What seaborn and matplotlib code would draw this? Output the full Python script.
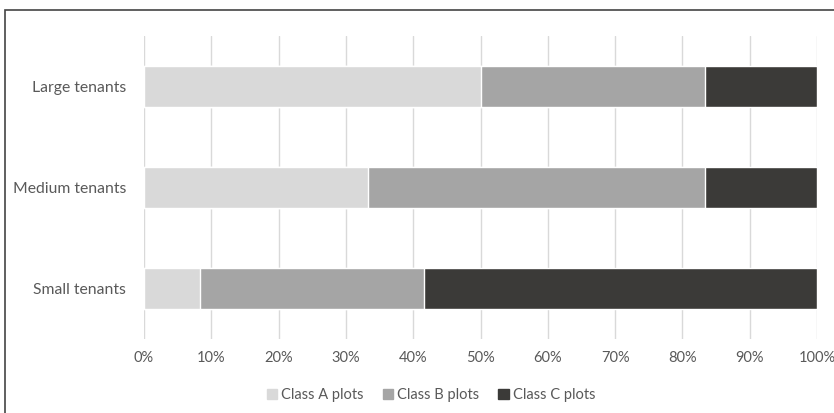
import matplotlib
matplotlib.use("Agg")
import matplotlib.pyplot as plt
import matplotlib.patches as mpatches
import numpy as np
import pandas as pd
import seaborn as sns

# Share of plot classes within each tenant size group (percent)
tenants = ["Large tenants", "Medium tenants", "Small tenants"]
class_a = [50.0, 33.3, 8.3]
class_b = [33.3, 50.0, 33.3]
class_c = [16.7, 16.7, 58.4]
series_names = ["Class A plots", "Class B plots", "Class C plots"]
colors = ["#D9D9D9", "#A5A5A5", "#3B3A38"]
xticks = list(range(0, 101, 10))

sns.set_theme(style="white")
plt.rcParams["font.family"] = ["Lato", "DejaVu Sans"]
text_color = "#595959"

W, H = 834, 413
fig = plt.figure(figsize=(W / 100, H / 100), dpi=100)
ax = fig.add_axes([144 / W, 1 - 339 / H, (817 - 144) / W, (339 - 36) / H])

# Stack by drawing cumulative totals from the back to the front
a = np.array(class_a)
b = np.array(class_b)
c = np.array(class_c)
layers = [(a + b + c, colors[2]), (a + b, colors[1]), (a, colors[0])]
for vals, col in layers:
    df = pd.DataFrame({"tenant": tenants, "value": vals})
    sns.barplot(data=df, y="tenant", x="value", orient="h", color=col,
                width=0.4, saturation=1, ax=ax, zorder=3)

ax.set_xlim(0, 100)
ax.set_ylim(2.5, -0.5)
ax.set_xticks(xticks)
ax.set_xticklabels([f"{t}%" for t in xticks])
ax.grid(axis="x", color="#D9D9D9", linewidth=1.0, zorder=0)
ax.set_axisbelow(True)
for s in ax.spines.values():
    s.set_visible(False)
ax.set_xlabel("")
ax.set_ylabel("")
ax.tick_params(axis="x", colors=text_color, labelsize=10.5, length=0, pad=9)
ax.tick_params(axis="y", colors=text_color, labelsize=11.3, length=0, pad=13)

handles = [mpatches.Patch(color=col, label=name) for col, name in zip(colors, series_names)]
fig.legend(handles=handles, loc="center", bbox_to_anchor=(431 / W, 1 - 395 / H),
           ncol=3, frameon=False, fontsize=10.5, labelcolor=text_color,
           handlelength=0.7, handleheight=0.7, handletextpad=0.3, columnspacing=1.3)

# Chart frame
frame = mpatches.Rectangle((5 / W, -0.05), 1.0, 1 - 9.5 / H + 0.05,
                           transform=fig.transFigure, fill=False,
                           edgecolor="#444444", linewidth=1.2)
fig.add_artist(frame)

fig.savefig("out.png", dpi=100)
